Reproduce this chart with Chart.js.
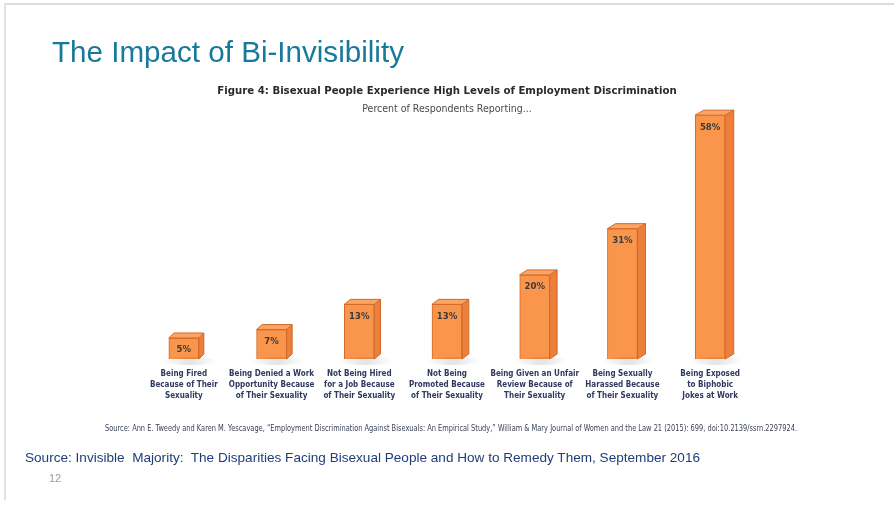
<!DOCTYPE html>
<html>
<head>
<meta charset="utf-8">
<script src="https://cdn.jsdelivr.net/npm/chart.js@4.4.1/dist/chart.umd.min.js"></script>
<style>
  html, body { margin: 0; padding: 0; background: #fff; }
  #wrap { position: relative; width: 894px; height: 506px; overflow: hidden; }
  #c { position: absolute; left: 0; top: 0; }
  .txt { position: absolute; white-space: nowrap; }
  #frameTop { position: absolute; left: 5px; top: 3px; width: 889px; height: 2px; background: #dcdcdc; }
  #frameLeft { position: absolute; left: 4px; top: 3px; width: 2px; height: 497px; background: #e2e2e2; }
  #slideTitle { left: 52px; top: 35px; font: 29.6px "Liberation Sans", Arial, sans-serif; color: #17799b; }
  #figSource { left: 105px; top: 424px; font: 8px "DejaVu Sans Condensed", sans-serif; color: #3a3f55; transform-origin: 0 0; }
  #slideSource { left: 25px; top: 450px; font: 13.5px "Liberation Sans", Arial, sans-serif; color: #1f3d7a; transform-origin: 0 0; }
  #pageNum { left: 49px; top: 472px; font: 11px "Liberation Sans", Arial, sans-serif; color: #9a9a9a; }
</style>
</head>
<body>
<div id="wrap">
  <div id="frameTop"></div>
  <div id="frameLeft"></div>
  <canvas id="c" width="894" height="506"></canvas>
  <div class="txt" id="slideTitle">The Impact of Bi-Invisibility</div>
  <div class="txt" id="figSource">Source: Ann E. Tweedy and Karen M. Yescavage, “Employment Discrimination Against Bisexuals: An Empirical Study,” William &amp; Mary Journal of Women and the Law 21 (2015): 699, doi:10.2139/ssrn.2297924.</div>
  <div class="txt" id="slideSource">Source: Invisible&nbsp; Majority:&nbsp; The Disparities Facing Bisexual People and How to Remedy Them, September 2016</div>
  <div class="txt" id="pageNum">12</div>
</div>
<script>
// ---- data ----
const categories = [
  ["Being Fired", "Because of Their", "Sexuality"],
  ["Being Denied a Work", "Opportunity Because", "of Their Sexuality"],
  ["Not Being Hired", "for a Job Because", "of Their Sexuality"],
  ["Not Being", "Promoted Because", "of Their Sexuality"],
  ["Being Given an Unfair", "Review Because of", "Their Sexuality"],
  ["Being Sexually", "Harassed Because", "of Their Sexuality"],
  ["Being Exposed", "to Biphobic", "Jokes at Work"]
];
const percentValues = [5, 7, 13, 13, 20, 31, 58];
const chartTitle = "Figure 4: Bisexual People Experience High Levels of Employment Discrimination";
const chartSubtitle = "Percent of Respondents Reporting...";

// fit helper for texts
function fitWidth(id, w) {
  const el = document.getElementById(id);
  const cur = el.getBoundingClientRect().width;
  el.style.transform = "scaleX(" + (w / cur) + ")";
}
fitWidth("figSource", 692);
fitWidth("slideSource", 675);

const NARROW = '"DejaVu Sans Condensed", sans-serif';

const bar3d = {
  id: "bar3d",
  afterDatasetsDraw(chart) {
    const ctx = chart.ctx;
    const meta = chart.getDatasetMeta(0);
    meta.data.forEach((bar, i) => {
      const w = bar.width;
      const l = bar.x - w / 2, r = bar.x + w / 2;
      const top = bar.y, base = bar.base;
      const dx = 5 + i * 0.6, dy = 5;
      ctx.save();
      // soft shadow
      const g = ctx.createRadialGradient(bar.x + 6, base + 2, 2, bar.x + 6, base + 2, w * 0.9);
      g.addColorStop(0, "rgba(0,0,0,0.10)");
      g.addColorStop(1, "rgba(0,0,0,0)");
      ctx.fillStyle = g;
      ctx.beginPath();
      ctx.ellipse(bar.x + 6, base + 2, w * 0.9, 4, 0, 0, Math.PI * 2);
      ctx.fill();
      ctx.lineWidth = 1;
      ctx.strokeStyle = "#d2682a";
      // side face
      ctx.fillStyle = "#ec7f3a";
      ctx.beginPath();
      ctx.moveTo(r, top);
      ctx.lineTo(r + dx, top - dy);
      ctx.lineTo(r + dx, base - dy);
      ctx.lineTo(r, base);
      ctx.closePath();
      ctx.fill(); ctx.stroke();
      // top face
      ctx.fillStyle = "#fba565";
      ctx.beginPath();
      ctx.moveTo(l, top);
      ctx.lineTo(l + dx, top - dy);
      ctx.lineTo(r + dx, top - dy);
      ctx.lineTo(r, top);
      ctx.closePath();
      ctx.fill(); ctx.stroke();
      // value label
      ctx.fillStyle = "#3b3b3b";
      ctx.font = "bold 9.5px " + NARROW;
      ctx.textAlign = "center";
      ctx.textBaseline = "middle";
      ctx.fillText(percentValues[i] + "%", bar.x, top + 12);
      ctx.restore();
    });
  }
};

new Chart(document.getElementById("c"), {
  type: "bar",
  data: {
    labels: categories,
    datasets: [{
      data: percentValues,
      backgroundColor: "#f9964b",
      borderColor: "#d2682a",
      borderWidth: 1,
      barThickness: 30
    }]
  },
  options: {
    responsive: false,
    animation: false,
    layout: { padding: { left: 140, right: 140, top: 0, bottom: 0 } },
    plugins: {
      legend: { display: false },
      tooltip: { enabled: false },
      title: {
        display: true,
        text: chartTitle,
        color: "#2a2a2a",
        font: { family: NARROW, size: 11.3, weight: "bold" },
        padding: { top: 84, bottom: 5 }
      },
      subtitle: {
        display: true,
        text: chartSubtitle,
        color: "#4a4a4a",
        font: { family: NARROW, size: 10.5 },
        padding: { top: 0, bottom: 0 }
      }
    },
    scales: {
      x: {
        grid: { display: false, drawTicks: false },
        border: { display: false },
        ticks: {
          color: "#2f3a5e",
          font: { family: NARROW, size: 8, weight: "bold", lineHeight: 1.375 },
          padding: 9,
          maxRotation: 0,
          autoSkip: false
        },
        afterFit(scale) { scale.height = 147; }
      },
      y: {
        display: false,
        min: 0,
        max: 58
      }
    }
  },
  plugins: [bar3d]
});
</script>
</body>
</html>
